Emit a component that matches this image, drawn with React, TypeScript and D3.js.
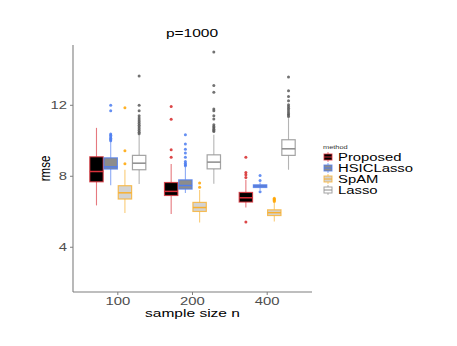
import React, { useEffect, useRef } from 'react';
import * as d3 from 'd3';

const sampleSizes = ['100', '200', '400'];
const methods = ['Proposed', 'HSICLasso', 'SpAM', 'Lasso'];
const yTicks = [4, 8, 12];

// box stats per method, one value per sample size (100, 200, 400)
const q1 = {
  Proposed: [7.66, 6.89, 6.52],
  HSICLasso: [8.38, 7.25, 7.34],
  SpAM: [6.69, 5.99, 5.76],
  Lasso: [8.34, 8.39, 9.15],
};
const median = {
  Proposed: [8.24, 7.12, 6.76],
  HSICLasso: [8.5, 7.45, 7.42],
  SpAM: [7.04, 6.21, 5.92],
  Lasso: [8.71, 8.77, 9.52],
};
const q3 = {
  Proposed: [9.07, 7.62, 7.06],
  HSICLasso: [9.01, 7.77, 7.49],
  SpAM: [7.44, 6.5, 6.08],
  Lasso: [9.15, 9.18, 10.03],
};
const whiskerLow = {
  Proposed: [6.33, 5.84, 6.21],
  HSICLasso: [7.47, 7.03, 7.2],
  SpAM: [5.9, 5.37, 5.43],
  Lasso: [7.53, 7.55, 8.34],
};
const whiskerHigh = {
  Proposed: [10.7, 8.66, 7.77],
  HSICLasso: [9.95, 8.5, 7.62],
  SpAM: [8.34, 7.2, 6.46],
  Lasso: [10.3, 10.31, 11.25],
};
const outliers = {
  Proposed: [[], [11.9, 11.19, 9.46, 9.05], [9.05, 8.19, 8.06, 7.9, 5.39]],
  HSICLasso: [
    [11.98, 11.66, 10.35, 10.28, 10.2, 10.12, 10.05, 9.98],
    [10.31, 9.79, 9.5, 9.28, 9.05, 8.8, 8.7, 8.62, 8.56],
    [8.02, 7.74, 7.1],
  ],
  SpAM: [[11.83, 9.41, 8.68], [7.59, 7.35], [6.74, 6.68, 6.62, 6.55]],
  Lasso: [
    [13.63, 11.98, 11.66, 11.38, 11.25, 11.15, 11.05, 10.95, 10.85, 10.75, 10.65, 10.55, 10.45, 10.37],
    [14.97, 13.09, 12.71, 11.77, 11.66, 11.38, 11.2, 10.87, 10.78, 10.7, 10.62, 10.55, 10.5],
    [13.56, 12.79, 12.47, 12.23, 12.0, 11.9, 11.8, 11.7, 11.6, 11.5, 11.42, 11.34],
  ],
};

const strokeColors = { Proposed: '#d9313a', HSICLasso: '#4f7df0', SpAM: '#f8b030', Lasso: '#8c8c8c' };
const fillColors = { Proposed: '#000000', HSICLasso: '#8c8c8c', SpAM: '#d3d3d3', Lasso: '#ffffff' };
const dotColors = { Proposed: '#d62728', HSICLasso: '#4a7bf0', SpAM: '#ffa500', Lasso: '#595959' };

// the original picture is stretched sideways, so text is too
const SX = 1.35;

const BoxChart = () => {
  const ref = useRef(null);

  useEffect(() => {
    const svg = d3.select(ref.current);
    svg.selectAll('*').remove();
    const font = 'Liberation Sans, Arial, sans-serif';

    const left = 73, right = 312, top = 45, bottom = 292;

    const x = d3.scaleBand().domain(sampleSizes).range([left, right])
      .paddingInner(0.25).paddingOuter(0.225);
    const xm = d3.scaleBand().domain(methods).range([0, x.bandwidth()]).paddingInner(0.06);
    const y = d3.scaleLinear().domain([1.45, 15.37]).range([bottom, top]);

    const label = (parent, tx, ty, str, size, anchor = 'middle', rot = 0) =>
      parent.append('text')
        .attr('transform', `translate(${tx},${ty}) scale(${SX},1)${rot ? ` rotate(${rot})` : ''}`)
        .attr('text-anchor', anchor).attr('font-size', size).attr('font-family', font)
        .text(str);

    const g = svg.append('g');

    methods.forEach((m) => {
      sampleSizes.forEach((s, i) => {
        const x0 = x(s) + xm(m);
        const w = xm.bandwidth();
        const cx = x0 + w / 2;
        const col = strokeColors[m];
        g.append('line').attr('x1', cx).attr('x2', cx)
          .attr('y1', y(whiskerHigh[m][i])).attr('y2', y(q3[m][i]))
          .attr('stroke', col).attr('stroke-opacity', 0.65).attr('stroke-width', 1.1);
        g.append('line').attr('x1', cx).attr('x2', cx)
          .attr('y1', y(q1[m][i])).attr('y2', y(whiskerLow[m][i]))
          .attr('stroke', col).attr('stroke-opacity', 0.65).attr('stroke-width', 1.1);
        g.append('rect').attr('x', x0).attr('width', w)
          .attr('y', y(q3[m][i])).attr('height', y(q1[m][i]) - y(q3[m][i]))
          .attr('fill', fillColors[m]).attr('stroke', col).attr('stroke-opacity', 0.8)
          .attr('stroke-width', 1.2);
        g.append('line').attr('x1', x0).attr('x2', x0 + w)
          .attr('y1', y(median[m][i])).attr('y2', y(median[m][i]))
          .attr('stroke', col).attr('stroke-width', 1.5);
        g.selectAll(null).data(outliers[m][i]).enter().append('circle')
          .attr('cx', cx).attr('cy', (d) => y(d)).attr('r', 1.5)
          .attr('fill', dotColors[m]).attr('fill-opacity', 0.85);
      });
    });

    // axes
    const axisCol = '#7f7f7f';
    const yAxis = svg.append('g').attr('transform', `translate(${left},0)`)
      .call(d3.axisLeft(y).tickValues(yTicks).tickSize(3).tickPadding(3));
    const xAxis = svg.append('g').attr('transform', `translate(0,${bottom})`)
      .call(d3.axisBottom(x).tickSize(3).tickPadding(2));
    [yAxis, xAxis].forEach((a) => {
      a.select('.domain').attr('stroke', axisCol).attr('stroke-width', 1.1);
      a.selectAll('.tick line').attr('stroke', axisCol);
      a.selectAll('.tick text').attr('fill', '#4d4d4d').attr('font-size', 11)
        .attr('font-family', font).attr('transform', `scale(${SX},1)`);
    });
    yAxis.selectAll('.tick text').attr('x', -6 / SX);
    yAxis.select('.domain').attr('d', `M0,${bottom}V${top}`);
    xAxis.select('.domain').attr('d', `M${left},0H${right}`);

    label(svg, 192, 37, 'p=1000', 11.5);
    label(svg, 50, (top + bottom) / 2, 'rmse', 11.5, 'middle', -90);
    label(svg, (left + right) / 2, 317, 'sample size n', 11.5);

    // legend
    const lg = svg.append('g').attr('transform', 'translate(323,146)');
    label(lg, 0, 3, 'method', 5.5, 'start').attr('fill', '#333');
    methods.forEach((m, i) => {
      const ky = 6 + i * 11;
      const k = lg.append('g').attr('transform', `translate(0,${ky})`);
      k.append('line').attr('x1', 5).attr('x2', 5).attr('y1', 0).attr('y2', 10)
        .attr('stroke', strokeColors[m]).attr('stroke-opacity', 0.65);
      k.append('rect').attr('x', 1).attr('y', 2).attr('width', 8).attr('height', 6)
        .attr('fill', fillColors[m]).attr('stroke', strokeColors[m]).attr('stroke-opacity', 0.8);
      k.append('line').attr('x1', 1).attr('x2', 9).attr('y1', 5).attr('y2', 5)
        .attr('stroke', strokeColors[m]);
      label(lg, 15, ky + 9, m, 11, 'start');
    });
  }, []);

  return (
    <svg ref={ref} width={457} height={346}
      style={{ position: 'absolute', left: 0, top: 0, background: '#fff' }} />
  );
};

export default function App() {
  return <BoxChart />;
}
